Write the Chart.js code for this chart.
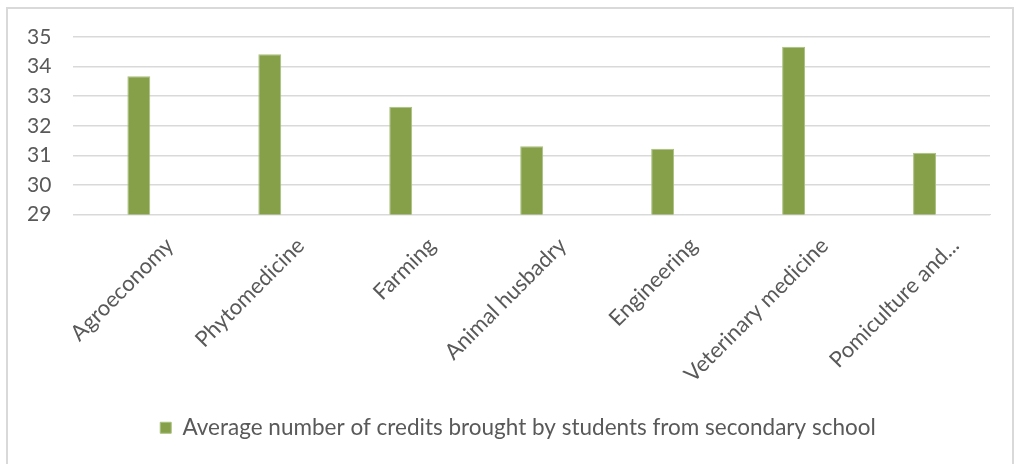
<!DOCTYPE html>
<html>
<head>
<meta charset="utf-8">
<script src="https://cdn.jsdelivr.net/npm/chart.js@4"></script>
<style>
  body { margin: 0; background: #fff; width: 1017px; height: 464px; overflow: hidden; position: relative; }
  #moldura { position: absolute; left: 6px; top: 7px; width: 1004px; height: 470px; border: 2px solid #d9d9d9; }
  #grafico { position: absolute; left: 0; top: 0; }
</style>
</head>
<body>
<div id="moldura"></div>
<canvas id="grafico" width="1017" height="464"></canvas>
<script>
// dados
var cursos = ['Agroeconomy', 'Phytomedicine', 'Farming', 'Animal husbadry', 'Engineering', 'Veterinary medicine', 'Pomiculture and...']
var mediaCreditos = [33.67, 34.42, 32.64, 31.31, 31.22, 34.67, 31.09]
var legenda = 'Average number of credits brought by students from secondary school'
var eixoMin = 29
var eixoMax = 35

var fonte = 'Lato, "Liberation Sans", sans-serif'
var corTexto = '#595959'
var corVerde = '#86a04a'

// no original a legenda fica um pouco à direita do centro do canvas
const ajustarLegenda = {
    id: 'ajustarLegenda',
    afterLayout(chart) {
        const desvio = (chart.chartArea.left - chart.legend.left) * 0.3
        chart.legend.left += desvio
        chart.legend.right += desvio
    }
}

const dados = {
    labels: cursos,
    datasets: [{
        label: legenda,
        backgroundColor: corVerde,
        borderColor: '#a9c07f',
        borderWidth: 1,
        barPercentage: 0.175,
        categoryPercentage: 1,
        data: mediaCreditos
    }]
};

const config = {
    type: 'bar',
    data: dados,
    plugins: [ajustarLegenda],
    options: {
        responsive: false,
        animation: false,
        layout: {
            padding: { left: 5, right: 27, top: 37, bottom: 15 }
        },
        plugins: {
            tooltip: { enabled: false },
            legend: {
                position: 'bottom',
                labels: {
                    color: corTexto,
                    font: { family: fonte, size: 22.5 },
                    boxWidth: 11,
                    boxHeight: 11,
                    padding: 19
                }
            }
        },
        scales: {
            x: {
                grid: { display: false },
                border: { color: '#d9d9d9', width: 1 },
                ticks: {
                    color: corTexto,
                    font: { family: fonte, size: 22 },
                    minRotation: 45,
                    maxRotation: 45,
                    autoSkip: false,
                    labelOffset: 31,
                    padding: 10
                }
            },
            y: {
                min: eixoMin,
                max: eixoMax,
                grid: { color: '#d9d9d9', lineWidth: 1.5, drawTicks: false },
                border: { display: false },
                ticks: {
                    stepSize: 1,
                    color: corTexto,
                    font: { family: fonte, size: 21 },
                    padding: 22
                }
            }
        }
    }
};

const meuGrafico = new Chart(document.getElementById('grafico'), config)
</script>
</body>
</html>
